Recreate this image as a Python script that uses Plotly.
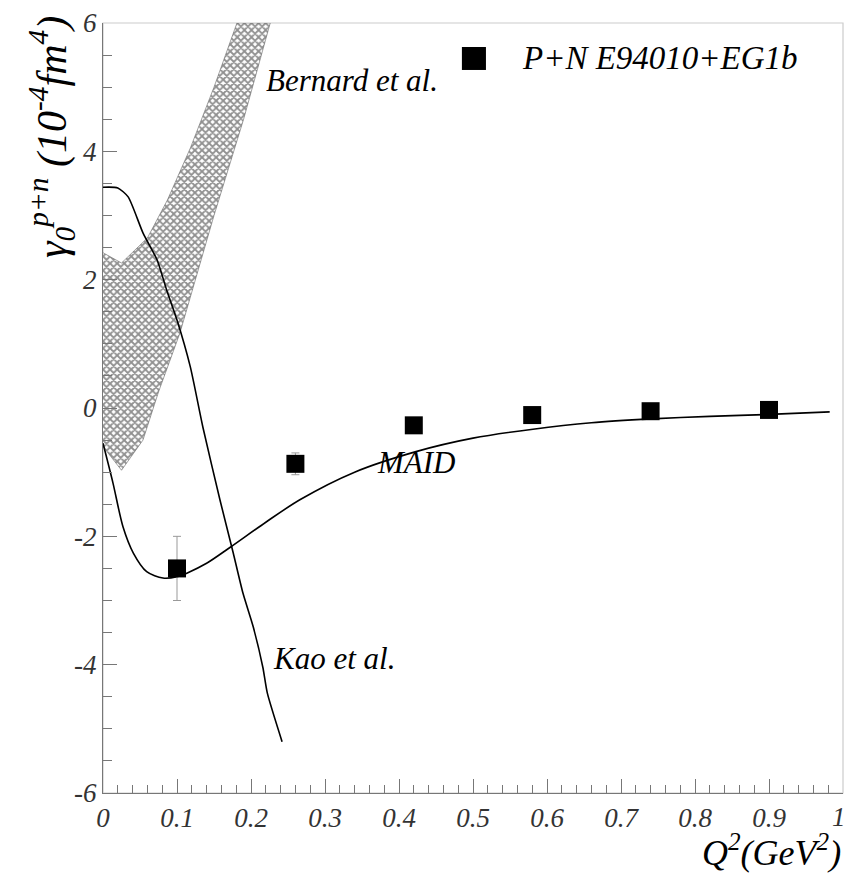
import plotly.graph_objects as go

# Measured gamma_0 (p+n), E94010 + EG1b
q2_data = [0.10, 0.26, 0.42, 0.58, 0.74, 0.90]
g0_data = [-2.50, -0.87, -0.27, -0.11, -0.05, -0.03]
g0_err = [0.50, 0.17, 0.06, 0.05, 0.04, 0.04]

# MAID model curve
q2_maid = [0.0, 0.0135, 0.027, 0.041, 0.059, 0.081, 0.10, 0.114, 0.14, 0.172, 0.22,
           0.266, 0.34, 0.423, 0.50, 0.581, 0.66, 0.741, 0.82, 0.901, 0.982]
g0_maid = [-0.55, -1.17, -1.85, -2.26, -2.55, -2.65, -2.63, -2.57, -2.42, -2.17, -1.78,
           -1.43, -1.00, -0.68, -0.47, -0.33, -0.23, -0.17, -0.13, -0.10, -0.06]

# Kao et al. chiral calculation
q2_kao = [0.0, 0.020, 0.034, 0.054, 0.073, 0.086, 0.10, 0.118, 0.135, 0.158,
          0.176, 0.189, 0.203, 0.216, 0.222, 0.242]
g0_kao = [3.44, 3.43, 3.29, 2.73, 2.31, 1.84, 1.37, 0.64, -0.30, -1.43,
          -2.26, -2.88, -3.41, -4.04, -4.44, -5.20]

# Bernard et al. band (upper and lower edges)
q2_bern_hi = [0.0, 0.025, 0.060, 0.087, 0.118, 0.150, 0.181]
g0_bern_hi = [2.42, 2.26, 2.65, 3.24, 4.05, 5.00, 6.00]
q2_bern_lo = [0.0, 0.025, 0.054, 0.075, 0.104, 0.150, 0.190, 0.226]
g0_bern_lo = [-0.60, -0.97, -0.50, 0.25, 1.17, 3.00, 4.50, 6.00]

# Axis tick labels (the last x label sits at the page edge and is placed separately)
x_ticks = [0, 0.1, 0.2, 0.3, 0.4, 0.5, 0.6, 0.7, 0.8, 0.9, 1]
x_ticklabels = ["0", "0.1", "0.2", "0.3", "0.4", "0.5", "0.6", "0.7", "0.8", "0.9", ""]
x_last_label = "1"
y_ticks = [-6, -4, -2, 0, 2, 4, 6]
y_ticklabels = ["-6", "-4", "-2", "0", "2", "4", "6"]

SERIF = "Liberation Serif"
AXIS_GREY = "#777777"

fig = go.Figure()

# Bernard band as a closed, cross-hatched polygon
band_x = q2_bern_hi + q2_bern_lo[::-1]
band_y = g0_bern_hi + g0_bern_lo[::-1]
fig.add_trace(go.Scatter(
    x=band_x, y=band_y, mode="lines", fill="toself",
    line=dict(width=0.6, color="#666666"),
    fillcolor="rgba(0,0,0,0)",
    fillpattern=dict(shape="x", size=5, solidity=0.6,
                     fgcolor="#222222", bgcolor="white"),
    showlegend=False, hoverinfo="skip",
))

fig.add_trace(go.Scatter(
    x=q2_maid, y=g0_maid, mode="lines",
    line=dict(color="black", width=1.6, shape="spline", smoothing=0.8),
    showlegend=False,
))
fig.add_trace(go.Scatter(
    x=q2_kao, y=g0_kao, mode="lines",
    line=dict(color="black", width=1.6, shape="spline", smoothing=0.6),
    showlegend=False,
))

fig.add_trace(go.Scatter(
    x=q2_data, y=g0_data, mode="markers",
    marker=dict(symbol="square", size=18, color="black"),
    error_y=dict(type="data", array=g0_err, color="#999999", thickness=1, width=4),
    name="P+N E94010+EG1b", showlegend=False,
))

tickfont = dict(family=SERIF, size=27, style="italic", color="#333333")

fig.update_layout(
    width=848, height=878,
    margin=dict(l=103, r=5, t=23, b=85),
    paper_bgcolor="white", plot_bgcolor="white",
    showlegend=False,
    xaxis=dict(
        range=[0, 1.0000001], tickvals=x_ticks, ticktext=x_ticklabels,
        ticks="inside", ticklen=14, tickcolor=AXIS_GREY, tickwidth=1,
        minor=dict(dtick=0.02, ticks="inside", ticklen=8, tickcolor=AXIS_GREY),
        showline=True, linecolor=AXIS_GREY, linewidth=1.2, mirror=False,
        showgrid=False, zeroline=False, tickfont=tickfont,
        ticklabeloverflow="allow", automargin=False,
    ),
    yaxis=dict(
        range=[-6, 6], tickvals=y_ticks, ticktext=y_ticklabels,
        ticks="inside", ticklen=14, tickcolor=AXIS_GREY, tickwidth=1,
        minor=dict(dtick=0.5, ticks="inside", ticklen=9, tickcolor=AXIS_GREY),
        showline=True, linecolor=AXIS_GREY, linewidth=1.2, mirror=False,
        showgrid=False, zeroline=False, tickfont=tickfont,
        automargin=False,
    ),
    shapes=[
        # light frame around the plotting area
        dict(type="rect", xref="paper", yref="paper", x0=0, y0=0, x1=1, y1=1,
             line=dict(color="#cccccc", width=1.2), layer="below"),
        # legend symbol for the data points
        dict(type="rect", xref="paper", yref="paper",
             x0=0.485, x1=0.5175, y0=0.939, y1=0.9688,
             fillcolor="black", line=dict(width=0)),
    ],
)

# final x tick label, kept inside the page
fig.add_annotation(xref="x", yref="paper", x=x_ticks[-1], y=-0.0312,
                   text=x_last_label, showarrow=False,
                   xanchor="right", yanchor="middle", xshift=5,
                   font=tickfont)

# legend entry text
fig.add_annotation(xref="paper", yref="paper", x=0.563, y=0.9545,
                   text="P+N E94010+EG1b", showarrow=False,
                   xanchor="left", yanchor="middle",
                   font=dict(family=SERIF, size=33, style="italic", color="black"))

lab = dict(family=SERIF, size=31, style="italic", color="black")
fig.add_annotation(x=0.218, y=5.1, text="Bernard et al.", showarrow=False,
                   xanchor="left", yanchor="middle", font=lab)
fig.add_annotation(x=0.367, y=-0.85, text="MAID", showarrow=False,
                   xanchor="left", yanchor="middle", font=lab)
fig.add_annotation(x=0.227, y=-3.9, text="Kao et al.", showarrow=False,
                   xanchor="left", yanchor="middle", font=lab)

# Axis titles
fig.add_annotation(xref="paper", yref="paper", x=1.0, y=-0.043,
                   text="Q<sup>2</sup>(GeV<sup>2</sup>)", showarrow=False,
                   xanchor="right", yanchor="top",
                   font=dict(family=SERIF, size=36, style="italic", color="black"))
fig.add_annotation(xref="paper", yref="paper", x=-0.07, y=1.012,
                   text="γ<sub>0</sub><sup>p+n</sup> (10<sup>-4</sup>fm<sup>4</sup>)",
                   showarrow=False, textangle=-90,
                   xanchor="center", yanchor="top",
                   font=dict(family=SERIF, size=42, style="italic", color="black"))

fig.write_html("out.html")
